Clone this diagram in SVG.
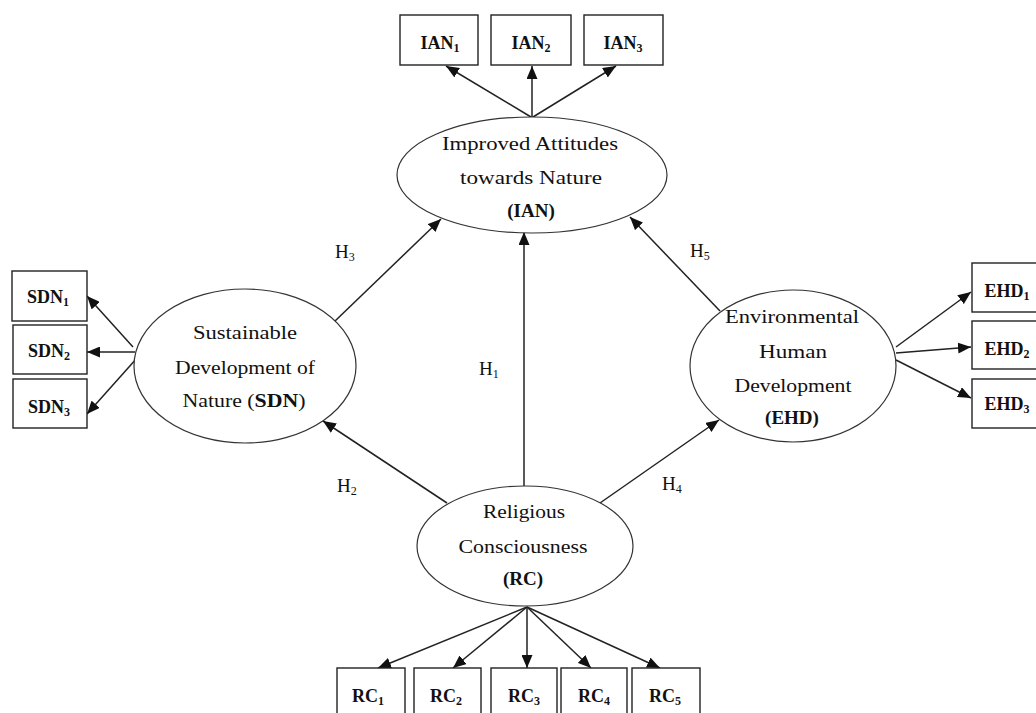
<svg xmlns="http://www.w3.org/2000/svg" width="1036" height="713" viewBox="0 0 1036 713">
<defs>
<marker id="ah" markerUnits="userSpaceOnUse" markerWidth="13" markerHeight="11" refX="13" refY="5.5" orient="auto">
<path d="M0,0 L13,5.5 L0,11 z" fill="#111"/>
</marker>
<style>
.box{fill:#fff;stroke:#222;stroke-width:1.4}
.ell{fill:#fff;stroke:#333;stroke-width:1.2}
.lbl{font-family:"Liberation Serif",serif;font-size:18px;font-weight:bold;fill:#111;text-anchor:middle}
.sub{font-size:12px}
.nt{font-family:"Liberation Serif",serif;font-size:19px;fill:#111;text-anchor:middle}
.h{font-family:"Liberation Serif",serif;font-size:19px;fill:#111}
.c{stroke:#222;stroke-width:1.5;fill:none;marker-end:url(#ah)}
</style>
</defs>
<rect width="1036" height="713" fill="#fff"/>

<g id="connectors">
<line class="c" x1="531" y1="117" x2="446" y2="66"/>
<line class="c" x1="532" y1="117" x2="532" y2="66"/>
<line class="c" x1="533" y1="117" x2="616" y2="66"/>
<line class="c" x1="133" y1="347" x2="87" y2="296"/>
<line class="c" x1="135" y1="352" x2="87" y2="352"/>
<line class="c" x1="137" y1="358" x2="87" y2="414"/>
<line class="c" x1="896" y1="347" x2="971" y2="292"/>
<line class="c" x1="896" y1="353" x2="971" y2="347"/>
<line class="c" x1="896" y1="360" x2="971" y2="398"/>
<line class="c" x1="527" y1="607" x2="378" y2="668"/>
<line class="c" x1="527" y1="607" x2="453" y2="668"/>
<line class="c" x1="527" y1="607" x2="527" y2="668"/>
<line class="c" x1="527" y1="607" x2="591" y2="668"/>
<line class="c" x1="527" y1="607" x2="660" y2="668"/>
<line class="c" x1="334" y1="322" x2="441" y2="219"/>
<line class="c" x1="524" y1="486" x2="524" y2="232"/>
<line class="c" x1="720" y1="311" x2="630" y2="217"/>
<line class="c" x1="447" y1="503" x2="323" y2="421"/>
<line class="c" x1="600" y1="503" x2="719" y2="420"/>
</g>

<g id="IAN">
<ellipse class="ell" cx="532" cy="175" rx="135" ry="58"/>
<text class="nt" x="530" y="150" textLength="176" lengthAdjust="spacingAndGlyphs">Improved Attitudes</text>
<text class="nt" x="531" y="184" textLength="142" lengthAdjust="spacingAndGlyphs">towards Nature</text>
<text class="nt" x="531" y="217" font-weight="bold">(IAN)</text>
</g>

<g id="SDN">
<ellipse class="ell" cx="245" cy="366" rx="111" ry="77"/>
<text class="nt" x="245" y="339" textLength="104" lengthAdjust="spacingAndGlyphs">Sustainable</text>
<text class="nt" x="245" y="374" textLength="140" lengthAdjust="spacingAndGlyphs">Development of</text>
<text class="nt" x="244" y="407" textLength="123" lengthAdjust="spacingAndGlyphs">Nature (<tspan font-weight="bold">SDN</tspan>)</text>
</g>

<g id="EHD">
<ellipse class="ell" cx="793" cy="366" rx="103" ry="76"/>
<text class="nt" x="792" y="323" textLength="134" lengthAdjust="spacingAndGlyphs">Environmental</text>
<text class="nt" x="793" y="358" textLength="68" lengthAdjust="spacingAndGlyphs">Human</text>
<text class="nt" x="793" y="392" textLength="117" lengthAdjust="spacingAndGlyphs">Development</text>
<text class="nt" x="792" y="424" font-weight="bold">(EHD)</text>
</g>

<g id="RC">
<ellipse class="ell" cx="525" cy="546" rx="108" ry="60"/>
<text class="nt" x="524" y="518" textLength="82" lengthAdjust="spacingAndGlyphs">Religious</text>
<text class="nt" x="523" y="553" textLength="129" lengthAdjust="spacingAndGlyphs">Consciousness</text>
<text class="nt" x="523" y="585" font-weight="bold">(RC)</text>
</g>

<g id="IAN1"><rect class="box" x="400" y="15" width="78" height="50"/><text class="lbl" x="440" y="49">IAN<tspan class="sub" dy="3">1</tspan></text></g>
<g id="IAN2"><rect class="box" x="491" y="15" width="80" height="50"/><text class="lbl" x="531" y="49">IAN<tspan class="sub" dy="3">2</tspan></text></g>
<g id="IAN3"><rect class="box" x="584" y="15" width="79" height="50"/><text class="lbl" x="623" y="49">IAN<tspan class="sub" dy="3">3</tspan></text></g>

<g id="SDN1"><rect class="box" x="12" y="271" width="75" height="50"/><text class="lbl" x="48" y="303">SDN<tspan class="sub" dy="3">1</tspan></text></g>
<g id="SDN2"><rect class="box" x="13" y="325" width="74" height="49"/><text class="lbl" x="49" y="357">SDN<tspan class="sub" dy="3">2</tspan></text></g>
<g id="SDN3"><rect class="box" x="13" y="379" width="74" height="49"/><text class="lbl" x="49" y="413">SDN<tspan class="sub" dy="3">3</tspan></text></g>

<g id="EHD1"><rect class="box" x="972" y="263" width="70" height="49"/><text class="lbl" x="1007" y="297">EHD<tspan class="sub" dy="3">1</tspan></text></g>
<g id="EHD2"><rect class="box" x="972" y="321" width="70" height="48"/><text class="lbl" x="1007" y="355">EHD<tspan class="sub" dy="3">2</tspan></text></g>
<g id="EHD3"><rect class="box" x="972" y="379" width="70" height="49"/><text class="lbl" x="1007" y="410">EHD<tspan class="sub" dy="3">3</tspan></text></g>

<g id="RC1"><rect class="box" x="337" y="668" width="68" height="60"/><text class="lbl" x="368" y="702">RC<tspan class="sub" dy="3">1</tspan></text></g>
<g id="RC2"><rect class="box" x="414" y="668" width="67" height="60"/><text class="lbl" x="446" y="702">RC<tspan class="sub" dy="3">2</tspan></text></g>
<g id="RC3"><rect class="box" x="491" y="668" width="66" height="60"/><text class="lbl" x="524" y="702">RC<tspan class="sub" dy="3">3</tspan></text></g>
<g id="RC4"><rect class="box" x="561" y="668" width="66" height="60"/><text class="lbl" x="594" y="702">RC<tspan class="sub" dy="3">4</tspan></text></g>
<g id="RC5"><rect class="box" x="632" y="668" width="68" height="60"/><text class="lbl" x="665" y="702">RC<tspan class="sub" dy="3">5</tspan></text></g>

<g id="hyp-labels">
<text class="h" x="335" y="258">H<tspan class="sub" dy="3">3</tspan></text>
<text class="h" x="479" y="375">H<tspan class="sub" dy="3">1</tspan></text>
<text class="h" x="690" y="257">H<tspan class="sub" dy="3">5</tspan></text>
<text class="h" x="337" y="492">H<tspan class="sub" dy="3">2</tspan></text>
<text class="h" x="662" y="490">H<tspan class="sub" dy="3">4</tspan></text>
</g>
</svg>
